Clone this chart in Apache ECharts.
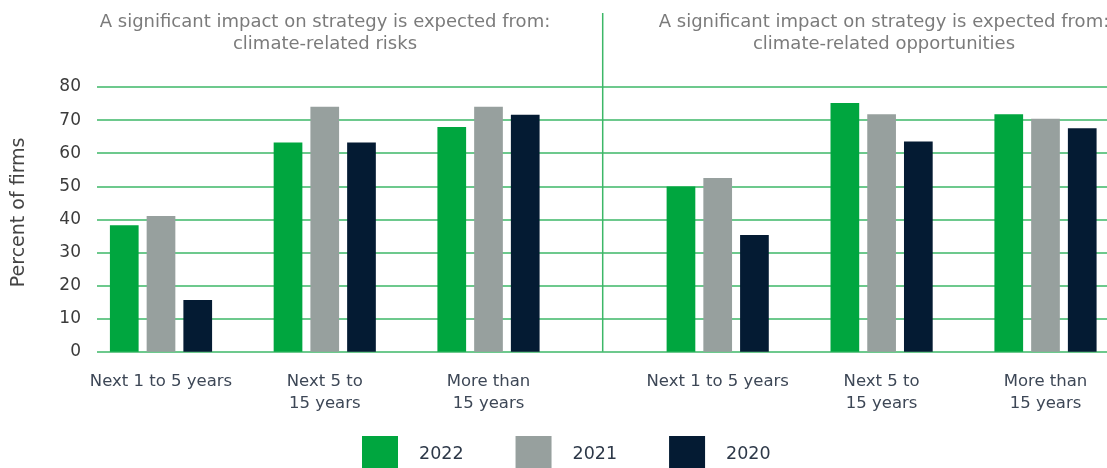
<!DOCTYPE html>
<html>
<head>
<meta charset="utf-8">
<title>Significant impact on strategy</title>
<script src="https://cdn.jsdelivr.net/npm/echarts@6/dist/echarts.min.js"></script>
<style>
  html, body { margin: 0; padding: 0; background: #fff; }
  #chart { width: 1107px; height: 468px; }
</style>
</head>
<body>
<div id="chart"></div>
<script>
// horizons on the x axis (same for both panels)
const categories = ['Next 1 to 5 years', 'Next 5 to\n15 years', 'More than\n15 years']
const years = ['2022', '2021', '2020']

// climate-related risks, percent of firms
const risks2022 = [38.2, 63.2, 67.9]
const risks2021 = [41.0, 74.0, 74.0]
const risks2020 = [15.6, 63.2, 71.6]

// climate-related opportunities, percent of firms
const opps2022 = [49.9, 75.2, 71.8]
const opps2021 = [52.5, 71.8, 70.4]
const opps2020 = [35.3, 63.5, 67.5]

const panelTitles = [
  'A significant impact on strategy is expected from:\nclimate-related risks',
  'A significant impact on strategy is expected from:\nclimate-related opportunities'
]

const colors = { '2022': '#00a63f', '2021': '#97a09e', '2020': '#041b33' }
const gridGreen = '#3cb767'
const font = 'DejaVu Sans'

const chart = echarts.init(document.getElementById('chart'), null, { renderer: 'canvas' })

function barSeries(name, data, axisIndex) {
  return {
    name: name,
    type: 'bar',
    xAxisIndex: axisIndex,
    yAxisIndex: axisIndex,
    data: data,
    barWidth: 28.7,
    barGap: '28%',
    clip: false,
    itemStyle: { color: colors[name] },
    emphasis: { disabled: true }
  }
}

// ticks sit on the grid edges (boundaryGap false) so the panel can reach past the canvas
function catAxis(gridIndex) {
  return {
    type: 'category',
    gridIndex: gridIndex,
    data: categories,
    boundaryGap: false,
    axisLine: { show: false },
    axisTick: { show: false },
    splitLine: { show: false },
    axisLabel: {
      margin: 19,
      interval: 0,
      color: '#3d4756',
      fontFamily: font,
      fontSize: 16.5,
      lineHeight: 22
    }
  }
}

function hiddenValueAxis(gridIndex) {
  return {
    type: 'value',
    gridIndex: gridIndex,
    min: 0,
    max: 80,
    interval: 10,
    show: false,
    splitLine: { show: false }
  }
}

const titleStyle = { color: '#7b7b7b', fontFamily: font, fontSize: 18, fontWeight: 'normal', lineHeight: 22 }

chart.setOption({
  animation: false,
  color: [colors['2022'], colors['2021'], colors['2020']],
  title: [
    { text: panelTitles[0], left: 320, top: 6, textAlign: 'center', textStyle: titleStyle },
    { text: panelTitles[1], left: 879, top: 6, textAlign: 'center', textStyle: titleStyle }
  ],
  legend: {
    data: years,
    left: 362,
    top: 436,
    padding: 0,
    icon: 'rect',
    itemWidth: 36,
    itemHeight: 36,
    itemGap: 52,
    selectedMode: false,
    textStyle: {
      color: '#2d3848',
      fontFamily: font,
      fontSize: 17.5,
      padding: [0, 0, 0, 16]
    }
  },
  grid: [
    // gridlines + y axis, spanning both panels
    { left: 97, right: 0, top: 87, bottom: 116.3 },
    // risks panel: from first to last group centre
    { left: 161, width: 327.5, top: 87, bottom: 116.3 },
    // opportunities panel
    { left: 717.7, width: 327.8, top: 87, bottom: 116.3 }
  ],
  xAxis: [
    { type: 'value', gridIndex: 0, show: false, splitLine: { show: false } },
    catAxis(1),
    catAxis(2)
  ],
  yAxis: [
    {
      type: 'value',
      gridIndex: 0,
      min: 0,
      max: 80,
      interval: 10,
      name: 'Percent of firms',
      nameLocation: 'middle',
      nameGap: 68,
      nameTextStyle: { color: '#444444', fontFamily: font, fontSize: 19, padding: [0, 0, 0, 14] },
      axisLine: { show: false },
      axisTick: { show: false },
      axisLabel: { margin: 16, color: '#3b3b3b', fontFamily: font, fontSize: 17 },
      splitLine: { show: true, lineStyle: { color: gridGreen, width: 1.5 } }
    },
    hiddenValueAxis(1),
    hiddenValueAxis(2)
  ],
  graphic: [
    {
      type: 'line',
      shape: { x1: 602.7, y1: 13, x2: 602.7, y2: 351.7 },
      style: { stroke: gridGreen, lineWidth: 1.5 },
      silent: true
    }
  ],
  series: [
    barSeries('2022', risks2022, 1),
    barSeries('2021', risks2021, 1),
    barSeries('2020', risks2020, 1),
    barSeries('2022', opps2022, 2),
    barSeries('2021', opps2021, 2),
    barSeries('2020', opps2020, 2)
  ]
})
</script>
</body>
</html>
